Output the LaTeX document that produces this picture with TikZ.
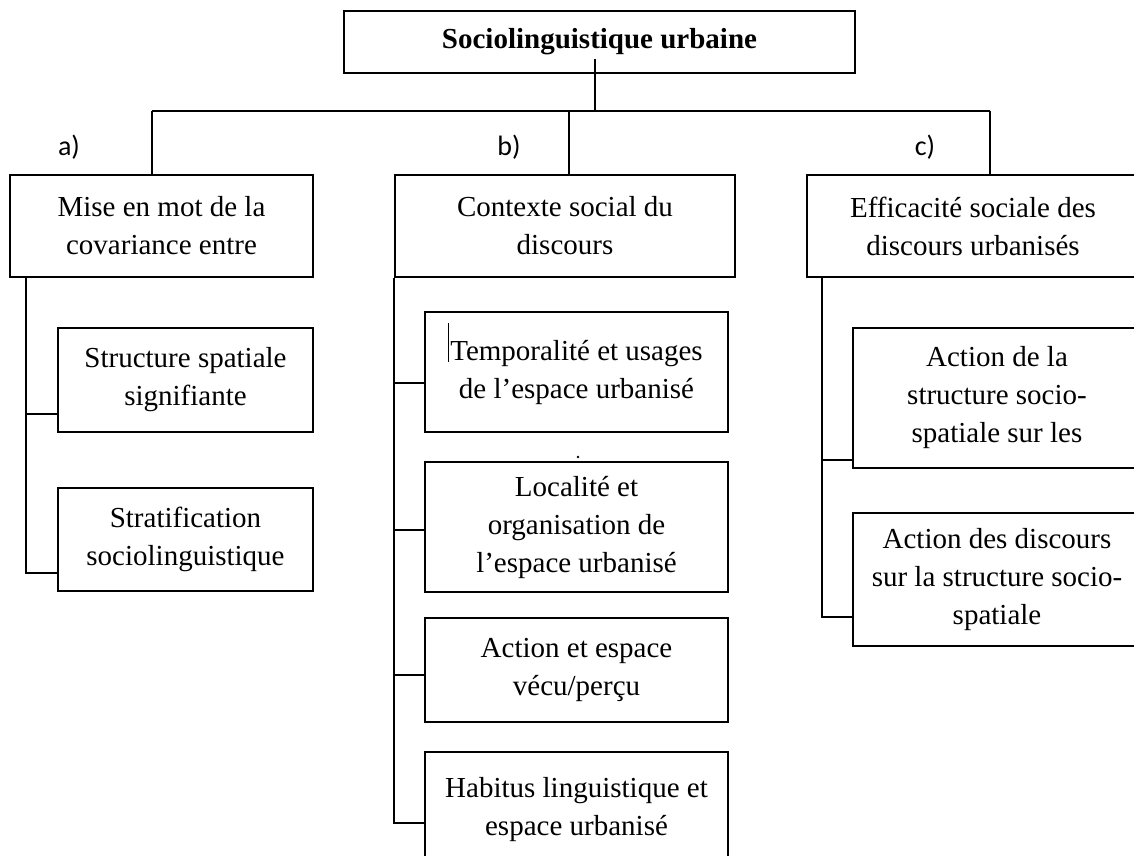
\documentclass[tikz,border=0pt]{standalone}
\usepackage{fontspec}
\setmainfont{Liberation Serif}
\newfontfamily\calfont{Carlito}
\usetikzlibrary{calc}

\begin{document}
\begin{tikzpicture}[x=1pt, y=-1pt, line width=1.8pt,
	box/.style = {draw, rectangle, inner sep=0pt, align=center,
		font=\fontsize{29}{38}\selectfont},
	lbl/.style = {inner sep=0pt, font=\calfont\fontsize{28}{30}\selectfont}]
\useasboundingbox (0, 0) rectangle (1134, 855);
\clip (0, 0) rectangle (1134, 855);
% root
\node[box, minimum width=511, minimum height=62,
	font=\bfseries\fontsize{29}{38}\selectfont] (title) at (599.5, 42)
	{Sociolinguistique urbaine};
% first level
\node[box, minimum width=303, minimum height=102] (mise) at (161.5, 226)
	{Mise en mot de la\\covariance entre};
\node[box, minimum width=340, minimum height=102] (contexte) at (565, 226)
	{Contexte social du\\discours};
\node[box, minimum width=332, minimum height=102] (efficacite) at (973, 226)
	{Efficacité sociale des\\discours urbanisés};
\node[lbl] (la) at (69, 147) {a)};
\node[lbl] (lb) at (509, 147) {b)};
\node[lbl] (lc) at (925, 147) {c)};
% a) children
\node[box, minimum width=255, minimum height=104] (spatiale) at (185.5, 380)
	{Structure spatiale\\signifiante};
\node[box, minimum width=255, minimum height=103] (strat) at (185.5, 539.5)
	{Stratification\\sociolinguistique};
% b) children
\node[box, minimum width=303, minimum height=120] (tempo) at (576.5, 372)
	{Temporalité et usages\\de l’espace urbanisé};
\node[box, minimum width=303, minimum height=130] (localite) at (576.5, 527)
	{Localité et\\organisation de\\l’espace urbanisé};
\node[box, minimum width=303, minimum height=104] (vecu) at (576.5, 670)
	{Action et espace\\vécu/perçu};
\node[box, minimum width=303, minimum height=115] (habitus) at (576.5, 809.5)
	{Habitus linguistique et\\espace urbanisé};
% c) children
\node[box, minimum width=288, minimum height=140] (actstruct) at (997, 398)
	{Action de la\\structure socio-\\spatiale sur les};
\node[box, minimum width=288, minimum height=133] (actdisc) at (997, 579.5)
	{Action des discours\\sur la structure socio-\\spatiale};

% connectors
\coordinate (hub) at (595, 111);
\coordinate (barA) at (152, 111);
\coordinate (barB) at (569, 111);
\coordinate (barC) at (990, 111);
\draw ($(title.south -| hub)+(0, -15)$) -- (hub);
\draw (barA) -- (barC);
\draw (barA) -- (barA |- mise.north);
\draw (barB) -- (barB |- contexte.north);
\draw (barC) -- (barC |- efficacite.north);
% spines
\coordinate (spA) at ([xshift=17pt]mise.south west);
\coordinate (spB) at (contexte.south west);
\coordinate (spC) at ([xshift=16pt]efficacite.south west);
\draw (spA) -- ++(0, 296);
\draw (spB) -- ++(0, 546);
\draw (spC) -- ++(0, 340);
\foreach \n/\d in {spatiale/34, strat/33.5, tempo/11, localite/3, vecu/5,
	habitus/13.5, actstruct/62, actdisc/37.5}
	\draw ($(\n.west)+(0, \d)$) -- ++(-30.5, 0);
% stray marks
\draw[line width=0.9pt] (448, 323) -- (448, 362);
\fill (578, 457) circle (1.4);
\end{tikzpicture}
\end{document}
